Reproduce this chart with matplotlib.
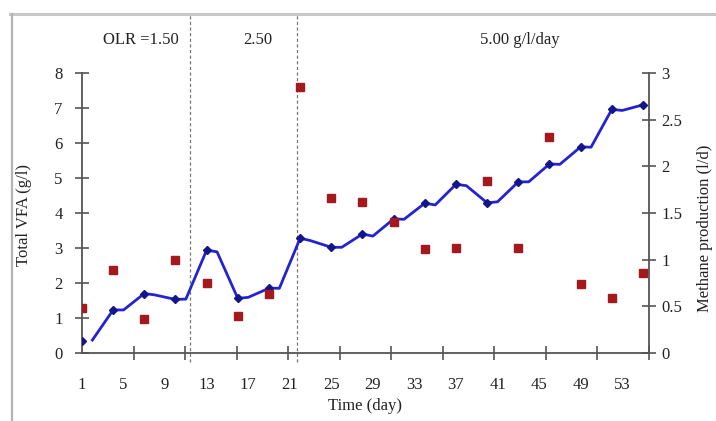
import numpy as np
import matplotlib
matplotlib.use("Agg")
import matplotlib.pyplot as plt
from matplotlib.lines import Line2D

plt.rcParams['font.family'] = ['Liberation Serif', 'DejaVu Serif']

# sampling days (every third day) and the day after each sample
days = [1, 4, 7, 10, 13, 16, 19, 22, 25, 28, 31, 34, 37, 40, 43, 46, 49, 52, 55]
next_days = [2, 5, 8, 11, 14, 17, 20, 23, 26, 29, 32, 35, 38, 41, 44, 47, 50, 53]

# total VFA (g/l) on the sampling days and on the following day
vfa = [0.34, 1.23, 1.70, 1.53, 2.94, 1.56, 1.85, 3.28, 3.02, 3.40,
       3.83, 4.28, 4.82, 4.29, 4.89, 5.40, 5.89, 6.96, 7.09]
vfa_next = [0.37, 1.23, 1.66, 1.54, 2.89, 1.59, 1.85, 3.21, 3.02, 3.34,
            3.82, 4.23, 4.78, 4.32, 4.89, 5.39, 5.88, 6.93]

# methane production (l/d)
methane = [0.48, 0.89, 0.36, 1.00, 0.75, 0.40, 0.63, 2.85, 1.66, 1.62,
           1.40, 1.11, 1.13, 1.84, 1.13, 2.31, 0.74, 0.59, 0.86]

# loading rate periods
olr_changes = [11.4, 21.7]
olr_labels = ["OLR =1.50", "2.50", "5.00 g/l/day"]
olr_label_x = [6.7, 17.9, 43.1]

x_ticklabels = list(range(1, 54, 4))

# merge sample days and follow-up days into one line
line_x, line_y = [], []
for i in range(len(days)):
    line_x.append(days[i]); line_y.append(vfa[i])
    if i < len(next_days):
        line_x.append(next_days[i]); line_y.append(vfa_next[i])

fig = plt.figure(figsize=(7.16, 4.21), dpi=100)
ax = fig.add_axes([82/716, 1-353/421, (649-82)/716, 280/421])
ax2 = ax.twinx()

xmax = 55.58
ax.set_xlim(1, xmax)
ax.set_ylim(0, 8)
ax2.set_ylim(0, 3)

blue = '#2323d2'
ax.plot(line_x[1:], line_y[1:], color=blue, lw=2.0, zorder=3)
ax.plot(days, vfa, ls='none', marker='D', ms=4.5, color='#15158a', zorder=4)
ax2.plot(days, methane, ls='none', marker='s', ms=6, color='#a3191c', zorder=4)

for xc in olr_changes:
    ax.axvline(xc, ymin=-0.032, ymax=1.207, color='#777777', lw=0.9,
               ls=(0, (2.5, 2)), clip_on=False, zorder=1)
for lab, xl in zip(olr_labels, olr_label_x):
    ax.text(xl, 8 + 33/35, lab, ha='center', va='center', fontsize=12, color='#222222')

ax.set_xticks(x_ticklabels)
ax.set_xticks(np.linspace(1, xmax, 12), minor=True)
ax.tick_params(axis='x', which='major', length=0, pad=17, labelsize=12, labelcolor='#222222')
ax.tick_params(axis='x', which='minor', direction='inout', length=10, width=1.2, color='#555555')
ax.set_yticks(range(0, 9))
ax.tick_params(axis='y', direction='inout', length=10, width=1.2, color='#555555',
               pad=9, labelsize=12, labelcolor='#222222')
ax2.set_yticks([0, 0.5, 1, 1.5, 2, 2.5, 3])
ax2.set_yticklabels(['0', '0.5', '1', '1.5', '2', '2.5', '3'])
ax2.tick_params(axis='y', direction='inout', length=10, width=1.2, color='#555555',
                pad=4, labelsize=12, labelcolor='#222222')

for a in (ax, ax2):
    a.spines['top'].set_visible(False)
    for s in ('left', 'right', 'bottom'):
        a.spines[s].set_color('#555555')
        a.spines[s].set_linewidth(1.3)
ax.spines['right'].set_visible(False)
ax2.spines['left'].set_visible(False)
ax2.spines['bottom'].set_visible(False)

# axis titles
fig.text(24/716, 1-215/421, 'Total VFA (g/l)', rotation=90, ha='center', va='center',
         fontsize=12, color='#222222')
fig.text(705/716, 1-228/421, 'Methane production (l/d)', rotation=90, ha='center',
         va='center', fontsize=12, color='#222222')
fig.text(365/716, 1-406/421, 'Time (day)', ha='center', va='center',
         fontsize=12, color='#222222')

# grey frame around the chart area
fig.add_artist(Line2D([10/716, 1], [1-14/421, 1-14/421], color='#c8c8c8', lw=2.2))
fig.add_artist(Line2D([11.5/716, 11.5/716], [0, 1-14/421], color='#b4b4b4', lw=1.6))

fig.savefig('out.png', dpi=100)
